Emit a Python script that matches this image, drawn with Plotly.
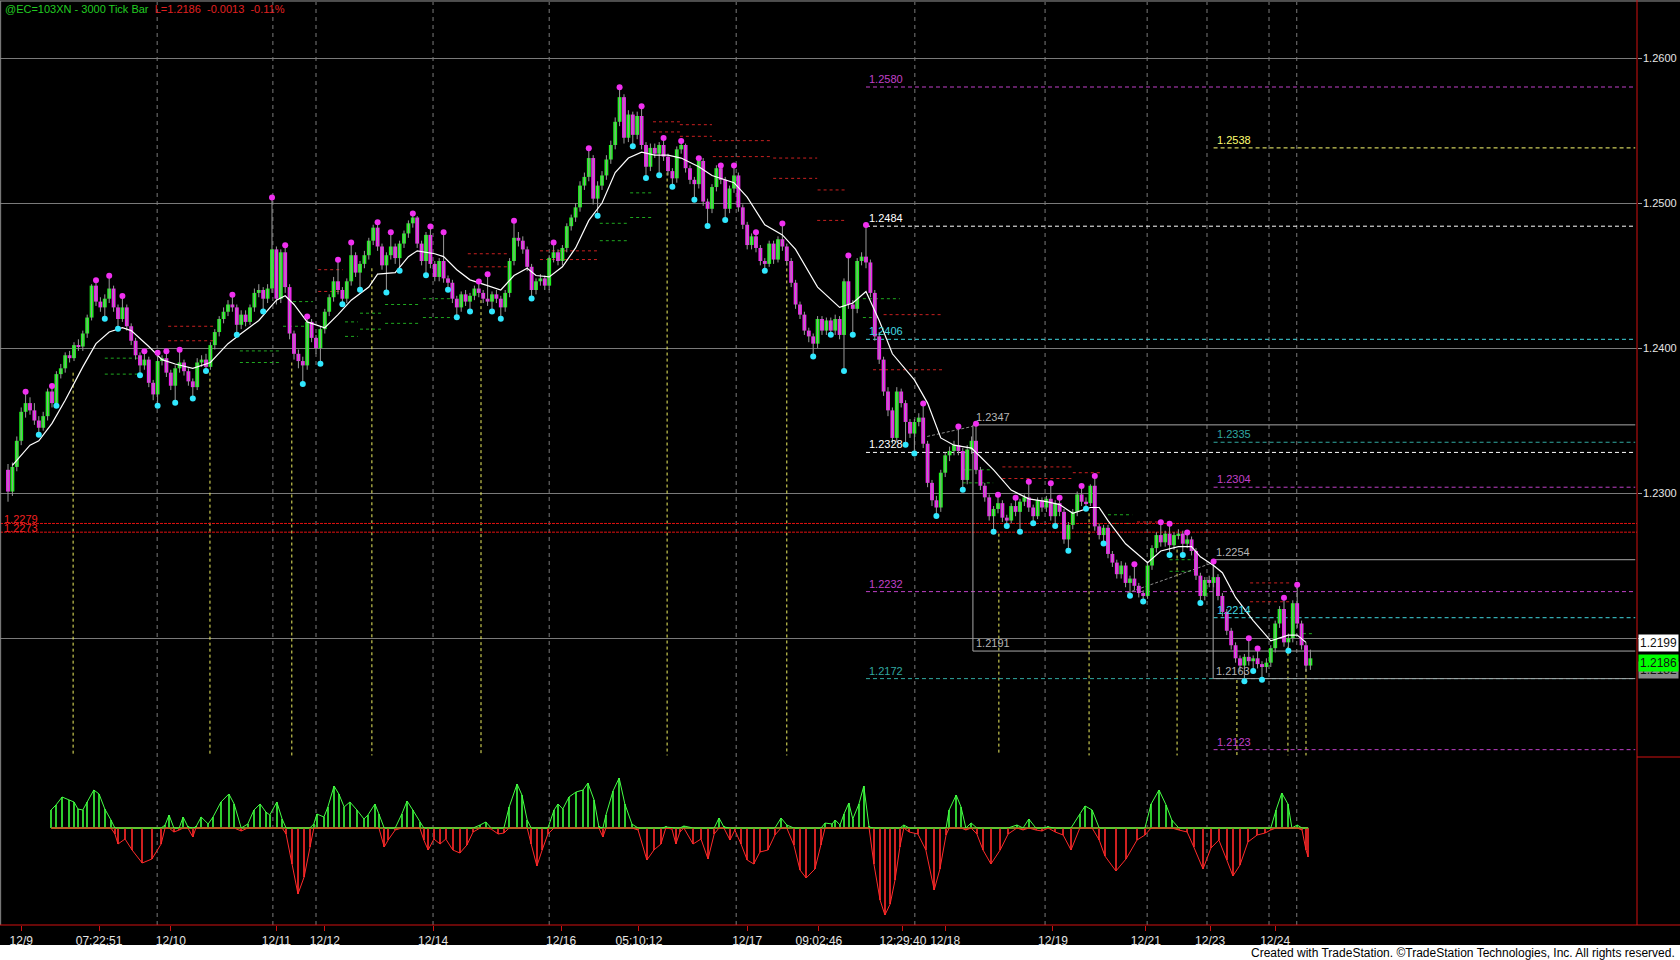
import plotly.graph_objects as go

# prices are kept in pips: 2301 -> 1.2301
opens = [
    2316, 2301, 2318, 2336, 2356, 2362, 2357, 2350, 2345, 2353,
    2370, 2362, 2382, 2386, 2395, 2393, 2402, 2401, 2410, 2421,
    2443, 2432, 2428, 2434, 2441, 2428, 2420, 2428, 2415, 2405,
    2395, 2388, 2392, 2376, 2368, 2391, 2393, 2383, 2374, 2386,
    2390, 2384, 2377, 2373, 2390, 2392, 2387, 2402, 2411, 2420,
    2425, 2430, 2428, 2416, 2423, 2418, 2428, 2438, 2440, 2434,
    2441, 2468, 2434, 2466, 2442, 2410, 2396, 2391, 2388, 2418,
    2407, 2400, 2413, 2425, 2435, 2446, 2440, 2434, 2446, 2464,
    2452, 2458, 2464, 2474, 2483, 2470, 2457, 2464, 2470, 2462,
    2472, 2479, 2486, 2490, 2472, 2460, 2478, 2458, 2449, 2460,
    2448, 2445, 2434, 2428, 2437, 2432, 2436, 2441, 2438, 2434,
    2432, 2437, 2434, 2428, 2438, 2460, 2476, 2474, 2468, 2456,
    2440, 2446, 2448, 2443, 2462, 2466, 2460, 2469, 2484, 2490,
    2497, 2512, 2518, 2531, 2503, 2512, 2519, 2530, 2540, 2556,
    2573, 2545, 2561, 2547, 2560, 2540, 2525, 2538, 2534, 2540,
    2532, 2522, 2517, 2537, 2540, 2524, 2516, 2513, 2529, 2501,
    2496, 2511, 2524, 2516, 2496, 2510, 2519, 2497, 2485, 2471,
    2477, 2469, 2460, 2458, 2472, 2461, 2475, 2470, 2460, 2445,
    2430, 2423, 2412, 2408, 2403, 2420, 2412, 2419, 2412, 2420,
    2409, 2446, 2430, 2427, 2460, 2463, 2459, 2438, 2408, 2392,
    2370, 2357, 2338, 2370, 2362, 2349, 2341, 2349, 2352, 2334,
    2307, 2295, 2290, 2314, 2326, 2329, 2333, 2329, 2309, 2330,
    2336, 2316, 2305, 2297, 2284, 2289, 2293, 2283, 2281, 2291,
    2287, 2294, 2297, 2290, 2284, 2295, 2290, 2296, 2284, 2293,
    2287, 2268, 2278, 2287, 2299, 2294, 2293, 2305, 2277, 2271,
    2276, 2258, 2252, 2244, 2250, 2238, 2241, 2236, 2231, 2229,
    2250, 2262, 2271, 2266, 2272, 2264, 2271, 2272, 2265, 2268,
    2260, 2243, 2229, 2240, 2238, 2242, 2229, 2218, 2205, 2195,
    2186, 2181, 2187, 2184, 2186, 2182, 2180, 2183, 2193, 2210,
    2220, 2197, 2200, 2224, 2210, 2195, 2181,
]
highs = [
    2320, 2321, 2339, 2359, 2369, 2366, 2362, 2353, 2356, 2372,
    2373, 2384, 2389, 2397, 2398, 2404, 2406, 2412, 2423, 2444,
    2446, 2435, 2437, 2449, 2443, 2430, 2435, 2430, 2417, 2407,
    2397, 2397, 2394, 2378, 2396, 2395, 2397, 2385, 2388, 2398,
    2392, 2386, 2379, 2393, 2395, 2396, 2404, 2413, 2422, 2428,
    2433, 2436, 2430, 2426, 2426, 2430, 2441, 2444, 2442, 2444,
    2503, 2470, 2468, 2470, 2444, 2412, 2399, 2394, 2421, 2420,
    2409, 2415, 2427, 2437, 2449, 2460, 2442, 2448, 2472, 2466,
    2460, 2467, 2476, 2485, 2486, 2472, 2466, 2479, 2472, 2474,
    2481, 2488, 2492, 2491, 2474, 2480, 2483, 2460, 2462, 2479,
    2450, 2447, 2436, 2439, 2440, 2438, 2443, 2445, 2440, 2450,
    2439, 2440, 2436, 2440, 2462, 2487, 2480, 2477, 2470, 2458,
    2448, 2451, 2450, 2464, 2472, 2468, 2471, 2486, 2492, 2500,
    2515, 2521, 2537, 2533, 2515, 2522, 2533, 2543, 2559, 2579,
    2575, 2564, 2563, 2563, 2566, 2542, 2541, 2541, 2542, 2544,
    2534, 2524, 2539, 2542, 2541, 2526, 2518, 2530, 2531, 2503,
    2513, 2526, 2525, 2518, 2512, 2525, 2521, 2499, 2487, 2479,
    2479, 2471, 2462, 2474, 2474, 2477, 2485, 2472, 2462, 2447,
    2432, 2425, 2414, 2410, 2422, 2422, 2421, 2421, 2423, 2422,
    2448, 2463, 2433, 2462, 2466, 2484, 2461, 2440, 2411, 2394,
    2373, 2359, 2373, 2372, 2364, 2351, 2351, 2355, 2361, 2336,
    2309, 2298, 2316, 2328, 2332, 2336, 2345, 2331, 2333, 2339,
    2347, 2318, 2307, 2299, 2291, 2298, 2295, 2285, 2293, 2296,
    2296, 2299, 2307, 2292, 2297, 2297, 2298, 2306, 2295, 2296,
    2289, 2280, 2289, 2301, 2304, 2297, 2306, 2311, 2279, 2278,
    2278, 2260, 2254, 2253, 2252, 2243, 2250, 2238, 2233, 2252,
    2264, 2273, 2279, 2274, 2278, 2273, 2275, 2274, 2272, 2270,
    2262, 2245, 2242, 2243, 2252, 2244, 2231, 2220, 2207, 2197,
    2188, 2189, 2199, 2188, 2192, 2184, 2186, 2195, 2212, 2222,
    2227, 2203, 2226, 2236, 2212, 2197, 2192,
]
lows = [
    2294, 2298, 2315, 2333, 2352, 2354, 2347, 2341, 2343, 2350,
    2359, 2361, 2379, 2383, 2390, 2391, 2398, 2398, 2407, 2419,
    2429, 2425, 2421, 2431, 2425, 2414, 2418, 2412, 2402, 2392,
    2382, 2385, 2373, 2364, 2361, 2388, 2380, 2371, 2363, 2383,
    2381, 2374, 2366, 2371, 2387, 2385, 2385, 2399, 2408, 2417,
    2422, 2425, 2410, 2413, 2415, 2416, 2425, 2435, 2426, 2431,
    2438, 2430, 2431, 2438, 2406, 2392, 2386, 2376, 2385, 2404,
    2396, 2390, 2410, 2422, 2432, 2437, 2431, 2431, 2443, 2449,
    2441, 2455, 2461, 2471, 2467, 2454, 2439, 2461, 2458, 2454,
    2469, 2476, 2483, 2469, 2457, 2451, 2455, 2446, 2446, 2445,
    2441, 2431, 2422, 2425, 2429, 2426, 2433, 2435, 2431, 2429,
    2426, 2431, 2421, 2425, 2435, 2457, 2470, 2465, 2453, 2435,
    2437, 2443, 2440, 2440, 2459, 2457, 2457, 2466, 2481, 2487,
    2494, 2509, 2515, 2499, 2492, 2509, 2516, 2527, 2537, 2553,
    2541, 2542, 2540, 2544, 2537, 2518, 2522, 2531, 2520, 2529,
    2519, 2512, 2514, 2534, 2521, 2513, 2503, 2510, 2498, 2485,
    2493, 2508, 2513, 2489, 2493, 2507, 2494, 2482, 2468, 2468,
    2466, 2457, 2454, 2456, 2458, 2459, 2467, 2457, 2442, 2427,
    2420, 2409, 2404, 2395, 2400, 2409, 2409, 2410, 2409, 2406,
    2385, 2427, 2410, 2424, 2457, 2455, 2435, 2405, 2389, 2367,
    2353, 2334, 2335, 2359, 2334, 2338, 2328, 2346, 2331, 2304,
    2291, 2285, 2287, 2311, 2322, 2326, 2326, 2303, 2306, 2327,
    2313, 2302, 2294, 2281, 2274, 2286, 2280, 2278, 2279, 2284,
    2274, 2291, 2287, 2280, 2282, 2287, 2287, 2281, 2278, 2284,
    2265, 2261, 2275, 2284, 2291, 2290, 2291, 2274, 2268, 2266,
    2255, 2249, 2241, 2241, 2235, 2230, 2233, 2228, 2226, 2227,
    2247, 2259, 2263, 2263, 2258, 2261, 2268, 2258, 2262, 2257,
    2240, 2225, 2226, 2235, 2235, 2226, 2215, 2202, 2192, 2183,
    2177, 2171, 2181, 2178, 2179, 2172, 2176, 2180, 2190, 2207,
    2194, 2192, 2197, 2207, 2192, 2177, 2178,
]
closes = [
    2301, 2318, 2336, 2356, 2362, 2357, 2350, 2345, 2353, 2370,
    2362, 2382, 2386, 2395, 2393, 2402, 2401, 2410, 2421, 2443,
    2432, 2428, 2434, 2441, 2428, 2420, 2428, 2415, 2405, 2395,
    2388, 2392, 2376, 2368, 2391, 2393, 2383, 2374, 2386, 2390,
    2384, 2377, 2373, 2390, 2392, 2387, 2402, 2411, 2420, 2425,
    2430, 2428, 2416, 2423, 2418, 2428, 2438, 2440, 2434, 2441,
    2468, 2434, 2466, 2442, 2410, 2396, 2391, 2388, 2418, 2407,
    2400, 2413, 2425, 2435, 2446, 2440, 2434, 2446, 2464, 2452,
    2458, 2464, 2474, 2483, 2470, 2457, 2464, 2470, 2462, 2472,
    2479, 2486, 2490, 2472, 2460, 2478, 2458, 2449, 2460, 2448,
    2445, 2434, 2428, 2437, 2432, 2436, 2441, 2438, 2434, 2432,
    2437, 2434, 2428, 2438, 2460, 2476, 2474, 2468, 2456, 2440,
    2446, 2448, 2443, 2462, 2466, 2460, 2469, 2484, 2490, 2497,
    2512, 2518, 2531, 2503, 2512, 2519, 2530, 2540, 2556, 2573,
    2545, 2561, 2547, 2560, 2540, 2525, 2538, 2534, 2540, 2532,
    2522, 2517, 2537, 2540, 2524, 2516, 2513, 2529, 2501, 2496,
    2511, 2524, 2516, 2496, 2510, 2519, 2497, 2485, 2471, 2477,
    2469, 2460, 2458, 2472, 2461, 2475, 2470, 2460, 2445, 2430,
    2423, 2412, 2408, 2403, 2420, 2412, 2419, 2412, 2420, 2409,
    2446, 2430, 2427, 2460, 2463, 2459, 2438, 2408, 2392, 2370,
    2357, 2338, 2370, 2362, 2349, 2341, 2349, 2352, 2334, 2307,
    2295, 2290, 2314, 2326, 2329, 2333, 2329, 2309, 2330, 2336,
    2316, 2305, 2297, 2284, 2289, 2293, 2283, 2281, 2291, 2287,
    2294, 2297, 2290, 2284, 2295, 2290, 2296, 2284, 2293, 2287,
    2268, 2278, 2287, 2299, 2294, 2293, 2305, 2277, 2271, 2276,
    2258, 2252, 2244, 2250, 2238, 2241, 2236, 2231, 2229, 2250,
    2262, 2271, 2266, 2272, 2264, 2271, 2272, 2265, 2268, 2260,
    2243, 2229, 2240, 2238, 2242, 2229, 2218, 2205, 2195, 2186,
    2181, 2187, 2184, 2186, 2182, 2180, 2183, 2193, 2210, 2220,
    2197, 2200, 2224, 2210, 2195, 2181, 2186,
]

pivot_high_bars = [4, 10, 20, 23, 26, 31, 34, 36, 39, 51, 60, 63, 68, 75, 78, 84, 87, 92,
                   96, 99, 107, 109, 115, 124, 132, 139, 144, 149, 153, 157, 162, 165,
                   170, 176, 191, 195, 208, 216, 220, 225, 229, 232, 237, 239, 244, 247,
                   256, 262, 264, 268, 274, 282, 284, 290, 293]
pivot_low_bars = [7, 11, 22, 25, 30, 34, 38, 42, 45, 52, 58, 67, 71, 76, 80, 86, 89, 95,
                  100, 102, 105, 110, 112, 119, 134, 142, 145, 148, 151, 156, 159, 163,
                  172, 183, 187, 190, 192, 204, 206, 211, 217, 224, 227, 230, 233, 238,
                  241, 245, 249, 255, 258, 264, 267, 271, 281, 283, 285, 291]

# moving average
ma_bars = [1, 5, 7, 10, 13, 17, 20, 23, 26, 28, 32, 35, 38, 42, 46, 50, 53, 57, 61, 63,
           65, 68, 72, 75, 78, 82, 84, 88, 91, 93, 97, 99, 102, 105, 109, 112, 115, 118,
           120, 123, 126, 129, 132, 135, 138, 141, 144, 147, 150, 153, 157, 160, 165, 168,
           172, 176, 179, 184, 189, 192, 195, 198, 201, 206, 209, 212, 215, 219, 221, 224,
           228, 232, 236, 239, 242, 246, 248, 250, 254, 259, 262, 266, 269, 271, 274, 276,
           279, 283, 287, 289, 291, 293, 295]
ma_vals = [2319, 2333, 2336, 2348, 2364, 2387, 2403, 2411, 2414, 2412, 2401, 2392, 2389,
           2386, 2390, 2403, 2410, 2419, 2433, 2436, 2430, 2418, 2414, 2423, 2433, 2442,
           2451, 2452, 2463, 2467, 2465, 2463, 2454, 2447, 2443, 2440, 2450, 2455, 2450,
           2449, 2456, 2469, 2488, 2500, 2521, 2531, 2535, 2533, 2533, 2531, 2525, 2519,
           2514, 2504, 2485, 2478, 2468, 2442, 2428, 2431, 2439, 2419, 2396, 2378, 2362,
           2338, 2333, 2331, 2325, 2316, 2302, 2296, 2294, 2292, 2286, 2290, 2290, 2281,
           2265, 2252, 2260, 2263, 2263, 2256, 2250, 2245, 2228, 2212, 2198, 2200, 2202,
           2202, 2197]

# lower oscillator (indicator units)
osc_bars = [9.8, 10.9, 12.3, 13.9, 15.0, 15.9, 17.0, 18.0, 19.5, 20.7, 22.0, 23.4, 24.3,
            25.0, 26.6, 28.2, 30.5, 32.7, 34.8, 35.7, 36.6, 37.7, 38.9, 39.8, 40.9, 42.0,
            42.7, 43.9, 45.5, 46.6, 48.4, 50.2, 51.4, 53.0, 54.5, 55.9, 57.3, 58.6, 59.5,
            61.1, 62.3, 63.2, 64.5, 65.9, 67.3, 68.6, 69.5, 70.2, 71.8, 72.7, 74.1, 75.2,
            76.4, 77.7, 79.3, 80.9, 81.8, 83.4, 84.3, 85.5, 86.4, 88.0, 89.5, 90.7, 92.0,
            93.6, 94.5, 95.5, 96.8, 98.2, 99.5, 101.1, 102.7, 104.3, 105.7, 107.3, 108.6,
            109.8, 111.4, 112.7, 113.9, 115.7, 116.8, 118.0, 118.9, 120.2, 121.4, 122.7,
            124.1, 125.0, 126.1, 127.5, 129.1, 130.7, 131.8, 133.2, 134.3, 135.2, 135.9,
            137.5, 138.9, 140.2, 141.8, 143.2, 145.2, 146.8, 148.4, 149.5, 150.9, 151.8,
            152.7, 153.6, 155.7, 157.5, 159.1, 160.5, 161.6, 162.7, 164.1, 165.2, 166.6,
            168.0, 169.5, 170.9, 172.7, 174.3, 175.7, 177.0, 178.6, 180.0, 181.4, 183.4,
            184.8, 185.7, 187.3, 188.0, 189.1, 190.0, 191.1, 192.0, 193.4, 194.5, 195.7,
            196.8, 198.2, 199.3, 200.5, 201.6, 202.7, 203.6, 204.8, 206.8, 208.6, 210.5,
            211.8, 213.2, 213.9, 215.5, 216.6, 217.7, 218.9, 220.2, 221.6, 223.4, 225.5,
            227.3, 229.3, 230.7, 232.0, 233.6, 235.0, 236.4, 238.0, 239.8, 241.6, 243.6,
            244.8, 246.4, 248.0, 249.3, 251.8, 254.1, 256.6, 258.4, 259.8, 261.6, 263.2,
            264.5, 266.1, 268.0, 269.5, 271.6, 273.4, 275.2, 277.0, 278.4, 280.0, 281.8,
            283.9, 285.7, 287.0, 288.2, 289.5, 290.9, 291.8, 293.0, 294.1, 295.0, 295.5]
osc_vals = [18, 23, 31, 28, 26, 19, 18, 26, 38, 34, 19, 8, -6,
            -16, -11, -22, -35, -31, -16, 3, 13, -4, -2, 11, 1, -9,
            1, 11, 4, 11, 26, 34, 24, -3, 4, 18, 24, 16, 13,
            26, 9, -6, -36, -66, -49, -19, 4, 14, 11, 21, 42, 34,
            21, 26, 18, 9, 13, 24, 14, -19, -12, -2, 14, 27, 18,
            6, -12, -22, -11, -16, -11, -22, -25, -17, -4, 3, 6,
            -1, -6, -5, 21, 44, 33, 8, -16, -38, -22, -6,
            18, 24, 19, 31, 36, 38, 45, 28, 1, -9, 13,
            37, 50, 24, 4, -2, -32, -22, -16, 1, -1, -16,
            -4, 2, -16, -11, -31, -6, 10, 1, -12, -2, -16,
            -32, -36, -24, -22, -7, 10, 3, -17, -42, -50, -41,
            -17, 5, 4, 8, 3, 14, 25, 9, 24, 42, 1,
            -36, -72, -87, -76, -52, -19, 3, -4, -6, -22, -62,
            -41, -7, 18, 33, 21, -2, 5, -6, -22, -36, -22,
            -6, 3, -2, 9, -2, -3, 1, -4, -7, -22, 14,
            22, 18, -12, -28, -43, -31, -12, -7, 24, 38, 23,
            8, -2, -4, -19, -41, -20, -12, -32, -48, -37, -14,
            -7, -5, -2, 18, 35, 24, 0, 3, -2, -22, -29]

session_breaks = [33.9, 60.2, 70.0, 96.6, 123.0, 165.5, 206.1, 235.7, 258.9, 272.5, 286.6, 292.9]
tick_bars = [3.0, 20.7, 37.0, 61.0, 72.0, 96.6, 125.7, 143.4, 168.0, 184.3, 203.4, 213.0,
             237.5, 258.6, 273.2, 288.0]
tick_labels = ['12/9', '07:22:51', '12/10', '12/11', '12/12', '12/14', '12/16', '05:10:12',
               '12/17', '09:02:46', '12:29:40', '12/18', '12/19', '12/21', '12/23', '12/24']
price_ticks = [1.22, 1.23, 1.24, 1.25, 1.26]
price_tick_labels = ['', '1.2300', '1.2400', '1.2500', '1.2600']

# yellow dotted signal lines (bar, top price)
signal_bars = [14.8, 45.9, 64.5, 82.7, 107.5, 149.8, 177.0, 225.2, 245.7, 265.7, 279.3, 290.9, 295.0]
signal_tops = [2383, 2383, 2390, 2455, 2433, 2521, 2459, 2272, 2286, 2261, 2171, 2194, 2187]
signal_floor = 2119

# short dotted support / resistance stubs
seg_start = [36.4, 36.4, 22.0, 22.0, 52.7, 52.7, 70.5, 70.5, 64.8, 62.5, 76.6, 76.6, 80.0,
             80.0, 85.7, 85.7, 94.3, 94.3, 104.5, 104.5, 120.9, 120.9, 141.4, 141.4, 134.5,
             134.5, 146.6, 146.6, 152.7, 152.7, 160.2, 160.2, 173.9, 173.9, 184.0, 183.9,
             194.3, 194.3, 199.0, 196.6, 217.0, 217.0, 226.0, 226.0, 242.0, 250.0, 250.0,
             256.6, 264.0, 264.0, 282.3, 282.3, 294.3]
seg_end = [46.6, 46.6, 30.0, 30.0, 61.8, 61.8, 76.1, 76.1, 69.3, 67.7, 79.5, 79.5, 85.0,
           85.0, 93.6, 93.6, 101.1, 101.1, 113.6, 113.6, 134.1, 134.1, 146.4, 146.4, 140.9,
           140.9, 152.7, 152.7, 160.0, 160.0, 173.6, 173.6, 183.9, 183.9, 190.7, 190.7,
           202.7, 198.0, 212.5, 212.5, 223.9, 223.9, 242.0, 242.0, 248.6, 255.5, 255.5,
           264.8, 269.8, 269.8, 291.8, 291.8, 296.5]
seg_level = [2415, 2405, 2393, 2382, 2398, 2390, 2454, 2439, 2432, 2415, 2418, 2408, 2424,
             2413, 2430, 2417, 2434, 2421, 2465, 2456, 2467, 2461, 2507, 2490, 2486,
             2474, 2556, 2549, 2554, 2546, 2543, 2532, 2531, 2517, 2509, 2488,
             2434, 2421, 2423, 2385, 2316, 2307, 2318, 2310, 2314, 2285, 2279,
             2280, 2254, 2246, 2238, 2225, 2203]
seg_kind = ['r', 'r', 'g', 'g', 'g', 'g', 'r', 'r', 'g', 'g', 'g', 'g', 'g',
            'g', 'g', 'g', 'g', 'g', 'r', 'r', 'r', 'r', 'g', 'g', 'g',
            'g', 'r', 'r', 'r', 'r', 'r', 'r', 'r', 'r', 'r', 'r',
            'g', 'g', 'r', 'r', 'g', 'g', 'r', 'r', 'r', 'g', 'g',
            'r', 'g', 'g', 'r', 'r', 'g']

# projected levels on the right
level_vals = [2580, 2538, 2484, 2406, 2335, 2328, 2304, 2232, 2214, 2172, 2123]
level_start = [195, 274, 195, 195, 274, 195, 274, 195, 274, 195, 274]
level_kind = ['mag', 'yel', 'wht', 'cyn', 'teal', 'wht', 'mag', 'mag', 'cyn', 'teal', 'mag']

red_levels = [2279, 2273]

# gray range boxes: left bar, top, bottom
box_left = [219.3, 273.9]
box_top = [2347, 2254]
box_bottom = [2191, 2172]
box_bottom_label = ['1.2191', '1.2163']

trend_x0 = [208.9, 254.3]
trend_y0 = [2339, 2231]
trend_x1 = [219.3, 273.9]
trend_y1 = [2346, 2252]

tag_vals = [2182, 2186, 2199]
tag_kind = ['gray', 'green', 'white']


def px(v):
    return 1 + v / 10000.0


GREEN = '#1CF21C'
MAGENTA = '#F020F0'
WICK = '#9A9A9A'
X_MIN, X_MAX = -1.818, 370.23
Y_MIN, Y_MAX = 1.211793, 1.263862
FONT = 'Liberation Sans, Arial, sans-serif'
NARROW = 'Liberation Sans Narrow, Arial Narrow, Liberation Sans, sans-serif'

level_colors = {'mag': '#C040C8', 'yel': '#FFFF70', 'wht': '#FFFFFF',
                'cyn': '#40D8E0', 'teal': '#30A8A0'}
seg_colors = {'r': '#C82020', 'g': '#1FA81F'}
tag_colors = {'gray': '#8A8A8A', 'green': '#00FF00', 'white': '#FFFFFF'}

n = min(len(opens), len(highs), len(lows), len(closes))
bars = list(range(n))
o = [px(v) for v in opens[:n]]
h = [px(v) for v in highs[:n]]
l = [px(v) for v in lows[:n]]
c = [px(v) for v in closes[:n]]

fig = go.Figure()

# wicks
wx, wy = [], []
for i in bars:
    wx += [i, i, None]
    wy += [l[i], h[i], None]
fig.add_trace(go.Scatter(x=wx, y=wy, mode='lines', line=dict(color=WICK, width=1),
                         hoverinfo='skip', xaxis='x', yaxis='y'))

# bodies
body_base = [min(a, b) for a, b in zip(o, c)]
body_h = [max(abs(b - a), 0.00005) for a, b in zip(o, c)]
body_col = [GREEN if b >= a else MAGENTA for a, b in zip(o, c)]
fig.add_trace(go.Bar(x=bars, y=body_h, base=body_base, width=0.88,
                     marker=dict(color=body_col, line=dict(width=0)),
                     hoverinfo='skip', xaxis='x', yaxis='y'))

# moving average
ma_pairs = list(zip(ma_bars, ma_vals))
fig.add_trace(go.Scatter(x=[p[0] for p in ma_pairs], y=[px(p[1]) for p in ma_pairs],
                         mode='lines', line=dict(color='#FFFFFF', width=1.2),
                         hoverinfo='skip', xaxis='x', yaxis='y'))

# pivot dots
fig.add_trace(go.Scatter(x=pivot_high_bars, y=[h[i] + 0.00008 for i in pivot_high_bars],
                         mode='markers', marker=dict(color='#F030F0', size=6),
                         hoverinfo='skip', xaxis='x', yaxis='y'))
fig.add_trace(go.Scatter(x=pivot_low_bars, y=[l[i] - 0.00008 for i in pivot_low_bars],
                         mode='markers', marker=dict(color='#30E8FF', size=6),
                         hoverinfo='skip', xaxis='x', yaxis='y'))

# oscillator
osc_pairs = list(zip(osc_bars, osc_vals))
ox = [p[0] for p in osc_pairs]
oy = [p[1] for p in osc_pairs]
fig.add_trace(go.Bar(x=ox, y=oy, width=0.3,
                     marker=dict(color=['#2FCC2F' if v >= 0 else '#D02020' for v in oy],
                                 line=dict(width=0)),
                     hoverinfo='skip', xaxis='x', yaxis='y2'))
fig.add_trace(go.Scatter(x=ox, y=[v if v > 0 else 0 for v in oy], mode='lines',
                         line=dict(color='#44FF44', width=1), hoverinfo='skip',
                         xaxis='x', yaxis='y2'))
fig.add_trace(go.Scatter(x=ox, y=[v if v < 0 else 0 for v in oy], mode='lines',
                         line=dict(color='#FF2A2A', width=1), hoverinfo='skip',
                         xaxis='x', yaxis='y2'))

shapes = []
annotations = []

# session separators
for b in session_breaks:
    shapes.append(dict(type='line', xref='x', yref='paper', x0=b, x1=b, y0=0, y1=1,
                       line=dict(color='#7A7A7A', width=1, dash='4px,4px'), layer='between'))

# oscillator zero line
shapes.append(dict(type='line', xref='x', yref='y2', x0=ox[0], x1=ox[-1], y0=0, y1=0,
                   line=dict(color='#7E8C1E', width=2), layer='between'))

# yellow signal lines
for b, t in zip(signal_bars, signal_tops):
    shapes.append(dict(type='line', xref='x', yref='y', x0=b, x1=b, y0=px(t), y1=px(signal_floor),
                       line=dict(color='#F0F060', width=1, dash='dot'), layer='between'))

# dotted stubs
for x0, x1, lv, k in zip(seg_start, seg_end, seg_level, seg_kind):
    shapes.append(dict(type='line', xref='x', yref='y', x0=x0, x1=x1, y0=px(lv), y1=px(lv),
                       line=dict(color=seg_colors[k], width=1, dash='dot'), layer='between'))

# red full-width levels
for lv in red_levels:
    shapes.append(dict(type='line', xref='x', yref='y', x0=X_MIN, x1=X_MAX, y0=px(lv), y1=px(lv),
                       line=dict(color='#E01010', width=1, dash='3px,1px'), layer='between'))
    annotations.append(dict(x=0, xref='paper', xanchor='left', xshift=2, y=px(lv), yref='y',
                            yanchor='bottom', yshift=-4, text='%.4f' % px(lv), showarrow=False,
                            font=dict(family=FONT, size=11, color='#F02020')))

# projected dashed levels
for lv, st, k in zip(level_vals, level_start, level_kind):
    col = level_colors[k]
    shapes.append(dict(type='line', xref='x', yref='y', x0=st, x1=X_MAX - 0.4, y0=px(lv), y1=px(lv),
                       line=dict(color=col, width=1, dash='4px,3px'), layer='between'))
    annotations.append(dict(x=st, xref='x', xanchor='left', xshift=1, y=px(lv), yref='y',
                            yanchor='bottom', yshift=0, text='%.4f' % px(lv), showarrow=False,
                            font=dict(family=FONT, size=11, color=col)))

# gray range boxes
for bl, bt, bb, lab in zip(box_left, box_top, box_bottom, box_bottom_label):
    for lv in (bt, bb):
        shapes.append(dict(type='line', xref='x', yref='y', x0=bl, x1=X_MAX - 0.4, y0=px(lv), y1=px(lv),
                           line=dict(color='#A8A8A8', width=1), layer='between'))
    shapes.append(dict(type='line', xref='x', yref='y', x0=bl, x1=bl, y0=px(bt), y1=px(bb),
                       line=dict(color='#A8A8A8', width=1), layer='between'))
    annotations.append(dict(x=bl, xref='x', xanchor='left', xshift=1, y=px(bt), yref='y',
                            yanchor='bottom', text='%.4f' % px(bt), showarrow=False,
                            font=dict(family=FONT, size=11, color='#B4B4B4')))
    annotations.append(dict(x=bl, xref='x', xanchor='left', xshift=1, y=px(bb), yref='y',
                            yanchor='bottom', text=lab, showarrow=False,
                            font=dict(family=FONT, size=11, color='#B4B4B4')))

# faint trend segments
for x0, y0, x1, y1 in zip(trend_x0, trend_y0, trend_x1, trend_y1):
    shapes.append(dict(type='line', xref='x', yref='y', x0=x0, x1=x1, y0=px(y0), y1=px(y1),
                       line=dict(color='#8C8C8C', width=1, dash='3px,2px'), layer='between'))

# frame pieces
shapes += [
    dict(type='line', xref='paper', yref='paper', x0=0, x1=1.0263, y0=1.0011, y1=1.0011,
         line=dict(color='#9A9A9A', width=1)),
    dict(type='line', xref='paper', yref='paper', x0=0.0004, x1=0.0004, y0=0, y1=1.0011,
         line=dict(color='#8A8A8A', width=1)),
    dict(type='line', xref='paper', yref='paper', x0=1, x1=1, y0=0, y1=1.0022,
         line=dict(color='#D01010', width=1)),
    dict(type='line', xref='paper', yref='paper', x0=0, x1=1.0263, y0=0, y1=0,
         line=dict(color='#D01010', width=1)),
    dict(type='line', xref='paper', yref='paper', x0=1, x1=1.0263, y0=0.182, y1=0.182,
         line=dict(color='#D01010', width=1)),
    dict(type='rect', xref='paper', yref='paper', x0=-0.001, x1=1.03, y0=-0.0385, y1=-0.0217,
         fillcolor='#FFFFFF', line=dict(width=0)),
]

# price axis labels, placed just right of the red border
for tv, tt in zip(price_ticks, price_tick_labels):
    if tt:
        annotations.append(dict(x=1, xref='paper', xanchor='left', xshift=4, y=tv, yref='y',
                                yanchor='middle', text=tt, showarrow=False,
                                font=dict(family=FONT, size=11, color='#E6E6E6')))

# right-axis value tags
tag_shift = {'gray': -6, 'green': -5, 'white': -4}
for tv, k in zip(tag_vals, tag_kind):
    annotations.append(dict(x=1, xref='paper', xanchor='left', xshift=1, y=px(tv), yref='y',
                            yanchor='middle', yshift=tag_shift[k], text='%.4f' % px(tv),
                            showarrow=False, bgcolor=tag_colors[k], borderpad=1,
                            font=dict(family=FONT, size=12, color='#111111')))

# title
annotations.append(dict(
    x=0, xref='paper', xanchor='left', xshift=3, y=1, yref='paper', yanchor='top', yshift=1,
    text='<span style="color:#22CC22">@EC=103XN - 3000 Tick Bar</span>\u00a0\u00a0'
         '<span style="color:#E02020">L=%.4f\u00a0\u00a0-0.0013\u00a0\u00a0-0.11%%</span>' % c[-1],
    showarrow=False, font=dict(family=FONT, size=11)))

# footer
annotations.append(dict(
    x=1677 / 1637, xref='paper', xanchor='right', y=-0.0305, yref='paper', yanchor='middle',
    text='Created with TradeStation. \u00a9TradeStation Technologies, Inc. All rights reserved.',
    showarrow=False, font=dict(family=NARROW, size=12, color='#000000')))

fig.update_layout(
    width=1680, height=960, autosize=False,
    margin=dict(l=0, r=43, t=2, b=35),
    paper_bgcolor='#000000', plot_bgcolor='#000000',
    showlegend=False, barmode='overlay', hovermode=False,
    shapes=shapes, annotations=annotations,
    xaxis=dict(domain=[0, 1], range=[X_MIN, X_MAX], anchor='y2', showgrid=False, zeroline=False,
               tickmode='array', tickvals=tick_bars, ticktext=tick_labels,
               ticks='outside', ticklen=5, tickcolor='#D01010', showline=False,
               tickfont=dict(family=NARROW, size=12, color='#E6E6E6')),
    yaxis=dict(domain=[0.182, 1], range=[Y_MIN, Y_MAX], side='right', anchor='x',
               tickmode='array', tickvals=price_ticks, showticklabels=False,
               showgrid=True, gridcolor='#7A7A7A', gridwidth=1, zeroline=False,
               ticks='outside', ticklen=4, tickcolor='#A0A0A0', showline=False),
    yaxis2=dict(domain=[0, 0.182], range=[-97, 71], side='right', anchor='x',
                showgrid=False, zeroline=False, showticklabels=False, ticks='', showline=False),
)

# the page body has a default 8px margin; drop it so the figure fills the window
fig.write_html("out.html", config={'displayModeBar': False},
               post_script="document.body.style.margin='0px';"
                           "document.body.style.overflow='hidden';")
